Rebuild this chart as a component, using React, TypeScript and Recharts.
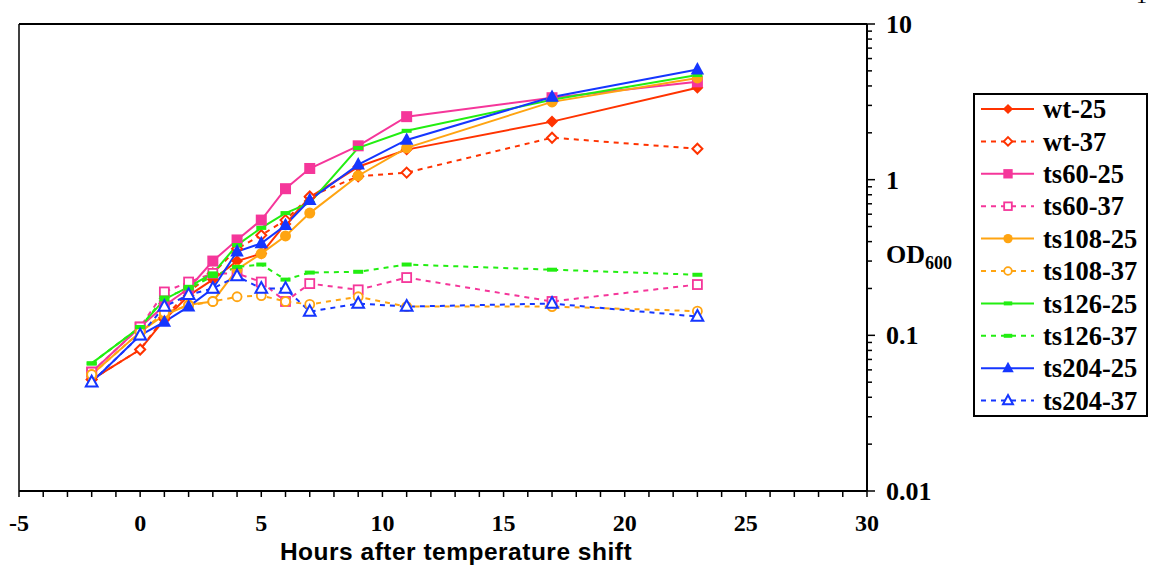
import { LineChart, Line, XAxis, YAxis, ReferenceLine } from 'recharts';

const hours = [-2, 0, 1, 2, 3, 4, 5, 6, 7, 9, 11, 17, 23];

const wt25 = [0.052, 0.081, 0.126, 0.18, 0.228, 0.3, 0.335, 0.52, 0.77, 1.21, 1.56, 2.36, 3.9];
const wt37 = [0.052, 0.081, 0.13, 0.19, 0.25, 0.36, 0.44, 0.55, 0.78, 1.05, 1.11, 1.86, 1.58];
const ts60_25 = [0.058, 0.113, 0.155, 0.2, 0.3, 0.41, 0.55, 0.875, 1.18, 1.65, 2.54, 3.36, 4.25];
const ts60_37 = [0.058, 0.113, 0.19, 0.22, 0.25, 0.25, 0.22, 0.165, 0.215, 0.196, 0.235, 0.165, 0.212];
const ts108_25 = [0.056, 0.105, 0.135, 0.157, 0.165, 0.265, 0.335, 0.435, 0.61, 1.06, 1.6, 3.16, 4.5];
const ts108_37 = [0.056, 0.105, 0.14, 0.155, 0.165, 0.177, 0.18, 0.165, 0.158, 0.177, 0.153, 0.153, 0.143];
const ts126_25 = [0.066, 0.113, 0.17, 0.205, 0.25, 0.38, 0.49, 0.61, 0.71, 1.6, 2.06, 3.26, 4.7];
const ts126_37 = [0.066, 0.113, 0.175, 0.2, 0.24, 0.275, 0.285, 0.228, 0.253, 0.256, 0.285, 0.264, 0.245];
const ts204_25 = [0.05, 0.1, 0.122, 0.153, 0.2, 0.345, 0.39, 0.51, 0.74, 1.25, 1.8, 3.4, 5.1];
const ts204_37 = [0.05, 0.1, 0.153, 0.182, 0.2, 0.24, 0.2, 0.2, 0.142, 0.16, 0.153, 0.16, 0.132];

const xTicks = Array.from({ length: 36 }, (_, i) => i - 5);
const yTicks = [0.01, 0.02, 0.03, 0.04, 0.05, 0.06, 0.07, 0.08, 0.09, 0.1, 0.2, 0.3, 0.4, 0.5, 0.6, 0.7, 0.8, 0.9, 1, 2, 3, 4, 5, 6, 7, 8, 9, 10];
const yMajor = [0.01, 0.1, 1, 10];

type Shape = 'diamond' | 'square' | 'circle' | 'dash' | 'triangle';

const series: { key: string; name: string; values: number[]; color: string; shape: Shape; filled: boolean }[] = [
  { key: 'wt25', name: 'wt-25', values: wt25, color: '#ff3300', shape: 'diamond', filled: true },
  { key: 'wt37', name: 'wt-37', values: wt37, color: '#ff3300', shape: 'diamond', filled: false },
  { key: 'ts60_25', name: 'ts60-25', values: ts60_25, color: '#f5369a', shape: 'square', filled: true },
  { key: 'ts60_37', name: 'ts60-37', values: ts60_37, color: '#f5369a', shape: 'square', filled: false },
  { key: 'ts108_25', name: 'ts108-25', values: ts108_25, color: '#ffa411', shape: 'circle', filled: true },
  { key: 'ts108_37', name: 'ts108-37', values: ts108_37, color: '#ffa411', shape: 'circle', filled: false },
  { key: 'ts126_25', name: 'ts126-25', values: ts126_25, color: '#22ee11', shape: 'dash', filled: true },
  { key: 'ts126_37', name: 'ts126-37', values: ts126_37, color: '#22ee11', shape: 'dash', filled: false },
  { key: 'ts204_25', name: 'ts204-25', values: ts204_25, color: '#1536ff', shape: 'triangle', filled: true },
  { key: 'ts204_37', name: 'ts204-37', values: ts204_37, color: '#1536ff', shape: 'triangle', filled: false },
];

const data = hours.map((h, i) => {
  const row: Record<string, number> = { h };
  series.forEach((s) => {
    row[s.key] = s.values[i];
  });
  return row;
});

const serif = '"Liberation Serif", "Times New Roman", serif';

function Marker({ cx, cy, color, shape, filled, scale = 1 }: { cx: number; cy: number; color: string; shape: Shape; filled: boolean; scale?: number }) {
  const fill = filled ? color : '#fff';
  const sw = filled ? 0 : 2;
  if (shape === 'diamond') {
    const r = (filled ? 6 : 5) * scale;
    return <path d={`M${cx},${cy - r}L${cx + r},${cy}L${cx},${cy + r}L${cx - r},${cy}Z`} fill={fill} stroke={color} strokeWidth={sw} />;
  }
  if (shape === 'square') {
    const r = (filled ? 5.5 : 4.5) * scale;
    return <rect x={cx - r} y={cy - r} width={2 * r} height={2 * r} fill={fill} stroke={color} strokeWidth={sw ? 1.8 : 0} />;
  }
  if (shape === 'circle') {
    const r = (filled ? 5.5 : 4.5) * scale;
    return <circle cx={cx} cy={cy} r={r} fill={fill} stroke={color} strokeWidth={sw ? 1.8 : 0} />;
  }
  if (shape === 'dash') {
    return <rect x={cx - 5 * scale} y={cy - 2} width={10 * scale} height={4} fill={color} />;
  }
  const r = (filled ? 7.5 : 6.5) * scale;
  return (
    <path
      d={`M${cx},${cy - r}L${cx + r * 0.9},${cy + r * 0.65}L${cx - r * 0.9},${cy + r * 0.65}Z`}
      fill={fill}
      stroke={color}
      strokeWidth={sw}
    />
  );
}

function makeDot(color: string, shape: Shape, filled: boolean) {
  return (props: any) => {
    const { cx, cy, index } = props;
    if (cx == null || cy == null) return <g key={`d-${index}`} />;
    return (
      <g key={`d-${index}`}>
        <Marker cx={cx} cy={cy} color={color} shape={shape} filled={filled} />
      </g>
    );
  };
}

function XTick({ x, y, payload }: any) {
  const v = payload.value;
  const major = v % 5 === 0;
  return (
    <g>
      <line x1={x} y1={y} x2={x} y2={y + 6} stroke="#000" strokeWidth={1.5} />
      {major && (
        <text x={x} y={y + 40} textAnchor="middle" fontFamily={serif} fontWeight="bold" fontSize={24} fill="#000">
          {v}
        </text>
      )}
    </g>
  );
}

function YTick({ x, y, payload }: any) {
  const v = payload.value;
  const major = yMajor.includes(v);
  return (
    <g>
      <line x1={x} y1={y} x2={x + (major ? 8 : 5)} y2={y} stroke="#000" strokeWidth={1.5} />
      {major && (
        <text x={x + 19} y={y} dy="0.35em" fontFamily={serif} fontWeight="bold" fontSize={26} fill="#000">
          {v}
        </text>
      )}
    </g>
  );
}

function LegendBox() {
  return (
    <div style={{ position: 'absolute', left: 973, top: 93, width: 171, height: 320, border: '2px solid #000', background: '#fff' }}>
      <svg width={171} height={320} style={{ display: 'block' }}>
        {series.map((s, i) => {
          const cy = 14 + i * 32.4;
          return (
            <g key={s.key}>
              <line x1={6} y1={cy} x2={59} y2={cy} stroke={s.color} strokeWidth={2} strokeDasharray={s.filled ? undefined : '5 5'} />
              <Marker cx={33} cy={cy} color={s.color} shape={s.shape} filled={s.filled} scale={0.85} />
              <text x={68} y={cy} dy="0.35em" fontFamily={serif} fontWeight="bold" fontSize={26.5} fill="#000">
                {s.name}
              </text>
            </g>
          );
        })}
      </svg>
    </div>
  );
}

export default function App() {
  return (
    <div style={{ position: 'absolute', left: 0, top: 0, width: 1151, height: 571, background: '#fff', overflow: 'hidden' }}>
      <div style={{ position: 'absolute', left: 1136, top: -15, fontFamily: serif, fontSize: 22, lineHeight: '22px' }}>1</div>
      <LineChart width={1151} height={571} data={data} margin={{ top: 24, left: 19, right: 204, bottom: 20 }}>
        <XAxis
          dataKey="h"
          type="number"
          domain={[-5, 30]}
          ticks={xTicks}
          interval={0}
          height={60}
          tickSize={0}
          tickMargin={0}
          tickLine={false}
          tick={<XTick />}
          axisLine={{ stroke: '#000', strokeWidth: 2 }}
          label={() => (
            <text x={456} y={560} textAnchor="middle" fontFamily='"Liberation Sans", Arial, sans-serif' fontWeight="bold" fontSize={24.5} letterSpacing={0.5} fill="#000">
              Hours after temperature shift
            </text>
          )}
        />
        <YAxis
          orientation="right"
          scale="log"
          domain={[0.01, 10]}
          allowDataOverflow
          ticks={yTicks}
          interval={0}
          width={80}
          tickSize={0}
          tickMargin={0}
          tickLine={false}
          tick={<YTick />}
          axisLine={{ stroke: '#000', strokeWidth: 2 }}
          label={() => (
            <text x={886} y={263} fontFamily={serif} fontWeight="bold" fontSize={26} fill="#000">
              OD
              <tspan fontSize={18} dy={6}>600</tspan>
            </text>
          )}
        />
        <ReferenceLine y={10} stroke="#000" strokeWidth={2} />
        <ReferenceLine x={-5} stroke="#000" strokeWidth={1.5} />
        {series.map((s) => (
          <Line
            key={s.key}
            dataKey={s.key}
            name={s.name}
            type="linear"
            stroke={s.color}
            strokeWidth={2}
            strokeDasharray={s.filled ? undefined : '5 5'}
            dot={makeDot(s.color, s.shape, s.filled)}
            activeDot={false}
            isAnimationActive={false}
          />
        ))}
      </LineChart>
      <LegendBox />
    </div>
  );
}
